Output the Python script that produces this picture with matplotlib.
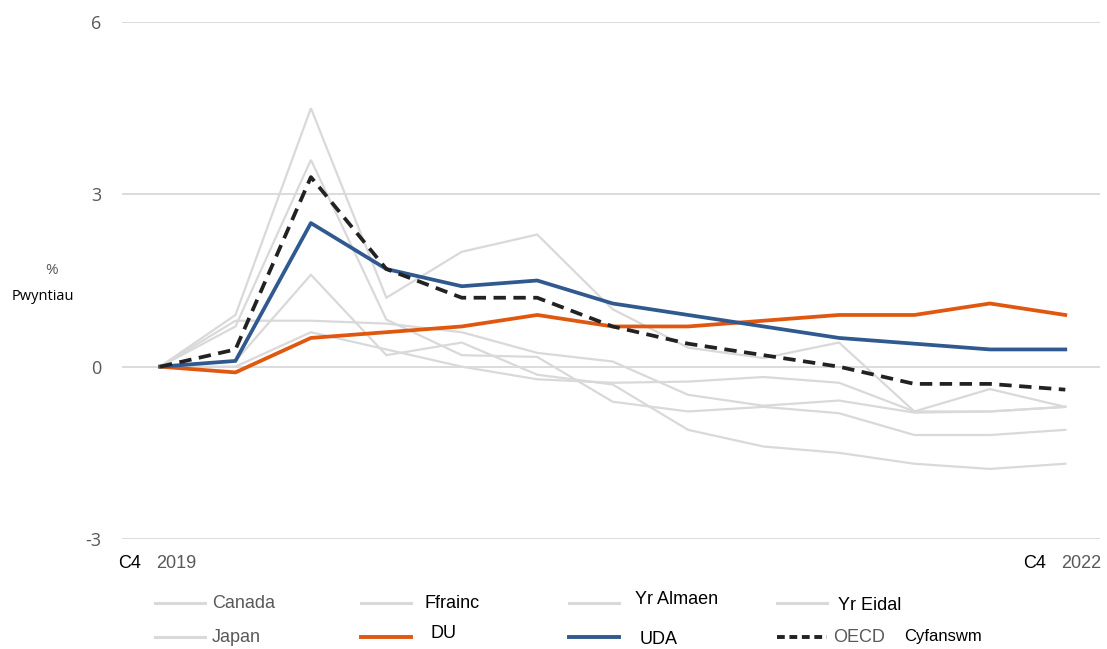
import matplotlib
matplotlib.use("Agg")
import matplotlib.pyplot as plt
from matplotlib.lines import Line2D
import numpy as np

# ---------------- data ----------------
quarters = ["C4 2019", "C1 2020", "C2 2020", "C3 2020", "C4 2020",
            "C1 2021", "C2 2021", "C3 2021", "C4 2021",
            "C1 2022", "C2 2022", "C3 2022", "C4 2022"]

canada   = [0, 0.7, 3.6, 0.82, 0.2, 0.17, -0.61, -0.78, -0.7, -0.81, -1.19, -1.19, -1.1]
ffrainc  = [0, 0.1, 1.6, 0.2, 0.42, -0.14, -0.31, -1.1, -1.39, -1.5, -1.69, -1.78, -1.69]
yr_almaen = [0, 0.8, 0.8, 0.75, 0.6, 0.24, 0.09, -0.49, -0.68, -0.59, -0.8, -0.78, -0.7]
yr_eidal = [0, 0.9, 4.5, 1.2, 2.0, 2.3, 1.0, 0.33, 0.15, 0.42, -0.78, -0.39, -0.7]
japan    = [0, 0.0, 0.6, 0.3, 0.0, -0.22, -0.28, -0.26, -0.18, -0.28, -0.78, -0.78, -0.7]
du       = [0, -0.1, 0.5, 0.6, 0.7, 0.9, 0.7, 0.7, 0.8, 0.9, 0.9, 1.1, 0.9]
uda      = [0, 0.1, 2.5, 1.7, 1.4, 1.5, 1.1, 0.9, 0.7, 0.5, 0.4, 0.3, 0.3]
oecd     = [0, 0.3, 3.3, 1.7, 1.2, 1.2, 0.7, 0.4, 0.2, 0.0, -0.3, -0.3, -0.4]

yticks = [-3, 0, 3, 6]
first_label = ("C4", "2019")
last_label = ("C4", "2022")

# ---------------- style ----------------
W, H = 1107, 649
GRAY_LINE = "#d9d9d9"
GRID = "#d9d9d9"
ORANGE = "#e0570f"
BLUE = "#30598f"
DARK = "#222222"
TXT_GRAY = "#595959"

fig = plt.figure(figsize=(W / 100, H / 100), dpi=100)
ax = fig.add_axes([122 / W, 1 - 539 / H, (1100 - 122) / W, (539 - 22) / H])

x = np.arange(len(quarters))
for s in (canada, ffrainc, yr_almaen, yr_eidal, japan):
    ax.plot(x, s, color=GRAY_LINE, lw=1.6, solid_joinstyle="miter", zorder=2)
ax.plot(x, du, color=ORANGE, lw=2.7, zorder=3)
ax.plot(x, uda, color=BLUE, lw=2.7, zorder=4)
ax.plot(x, oecd, color=DARK, lw=2.7, dashes=(3.3, 2.0), zorder=5)

ax.set_xlim(-0.504, 12.46)
ax.set_ylim(-3, 6)
ax.set_yticks(yticks)
ax.set_yticklabels([str(v) for v in yticks], fontsize=13,
                   color=TXT_GRAY, family="Open Sans")
ax.tick_params(axis="y", length=0, pad=15)
ax.set_xticks([])
ax.yaxis.grid(True, color=GRID, lw=1.3)
ax.set_axisbelow(True)
for sp in ax.spines.values():
    sp.set_visible(False)

# x end labels
xfont = dict(family="Liberation Sans", fontsize=13)
for xi, (q, yr) in ((0, first_label), (len(quarters) - 1, last_label)):
    ax.annotate(q, xy=(xi, 0), xycoords=("data", "axes fraction"),
                xytext=(-19, -24), textcoords="offset pixels",
                ha="right", va="center", color="black", **xfont)
    ax.annotate(yr, xy=(xi, 0), xycoords=("data", "axes fraction"),
                xytext=(-4, -24), textcoords="offset pixels",
                ha="left", va="center", color=TXT_GRAY, **xfont)

# y axis unit label
fig.text(52 / W, 1 - 270 / H, "%", ha="center", va="center",
         color=TXT_GRAY, fontsize=11, family="Open Sans")
fig.text(43 / W, 1 - 297 / H, "Pwyntiau", ha="center", va="center",
         color="black", fontsize=10.5, family="Open Sans")

# ---------------- legend (manual) ----------------
def fx(px):
    return px / W

def fy(py):
    return 1 - py / H

legend_items = [
    # handle x0, row y, text x, text y, label, text colour, line kwargs
    (155, 603, 212, 603, "Canada", TXT_GRAY, dict(color=GRAY_LINE, lw=2.2)),
    (361, 603, 424, 603, "Ffrainc", "black", dict(color=GRAY_LINE, lw=2.2)),
    (569, 603, 635, 599, "Yr Almaen", "black", dict(color=GRAY_LINE, lw=2.2)),
    (777, 603, 838, 606, "Yr Eidal", "black", dict(color=GRAY_LINE, lw=2.2)),
    (155, 637, 212, 637, "Japan", TXT_GRAY, dict(color=GRAY_LINE, lw=2.2)),
    (361, 637, 430, 634, "DU", "black", dict(color=ORANGE, lw=2.8)),
    (569, 637, 640, 639, "UDA", "black", dict(color=BLUE, lw=2.8)),
    (777, 637, 833, 637, "OECD", TXT_GRAY, dict(color=DARK, lw=2.8, dashes=(2.0, 1.2))),
]
for hx, hy, tx, ty, lab, tcol, kw in legend_items:
    fig.add_artist(Line2D([fx(hx), fx(hx + 50)], [fy(hy), fy(hy)],
                          transform=fig.transFigure, **kw))
    fig.text(fx(tx), fy(ty), lab, ha="left", va="center", color=tcol,
             family="Liberation Sans", fontsize=13)
fig.text(fx(904), fy(637), "Cyfanswm", ha="left", va="center", color="black",
         family="Liberation Sans", fontsize=12)

fig.savefig("out.png", dpi=100, facecolor="white")
